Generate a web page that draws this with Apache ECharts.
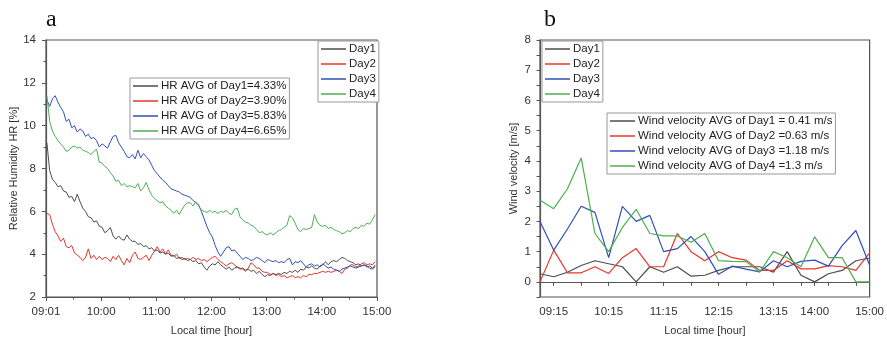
<!DOCTYPE html>
<html>
<head>
<meta charset="utf-8">
<script src="https://cdn.jsdelivr.net/npm/echarts@6/dist/echarts.min.js"></script>
<style>html,body{margin:0;padding:0;background:#fff;}#c{width:887px;height:341px;}</style>
</head>
<body>
<div id="c"></div>
<script>
// ---------- Panel a: Relative humidity (samples every 3 min from 09:01) ----------
const hrDay1 = [9.2,7.9,7.5,7.35,7.15,7.2,6.95,6.9,6.65,6.7,6.45,6.8,6.45,6.15,6.0,5.75,5.7,5.5,5.55,5.3,
  5.25,5.0,5.1,5.25,4.85,4.7,4.85,4.7,4.65,4.9,4.7,4.6,4.6,4.45,4.5,4.35,4.4,4.25,4.3,4.15,
  4.2,4.05,4.1,4.0,4.05,3.9,3.95,3.8,3.85,3.75,3.8,3.7,3.75,3.65,3.7,3.55,3.6,3.4,3.25,3.45,
  3.55,3.5,3.65,3.5,3.4,3.3,3.4,3.25,3.35,3.4,3.3,3.35,3.25,3.3,3.2,3.25,3.1,3.2,3.05,2.95,
  3.05,3.0,3.1,3.05,3.1,3.05,3.15,3.1,3.2,3.15,3.25,3.15,3.3,3.25,3.4,3.35,3.45,3.35,3.3,3.45,
  3.5,3.65,3.5,3.65,3.7,3.65,3.75,3.85,3.8,3.7,3.65,3.6,3.5,3.55,3.45,3.5,3.4,3.45,3.35,3.4];
const hrDay2 = [5.9,5.85,5.4,5.05,4.85,4.6,4.75,4.35,4.3,4.4,4.05,3.95,3.85,3.7,3.85,4.25,3.8,3.95,3.75,3.9,
  3.75,3.85,3.8,3.65,3.9,3.75,3.95,3.7,3.5,3.8,3.6,3.95,4.1,3.8,3.75,3.85,3.95,3.7,3.95,4.15,
  4.35,4.1,4.25,4.0,4.2,3.95,3.9,4.0,3.8,3.85,3.75,3.8,3.75,3.85,3.75,3.8,3.7,3.75,3.65,3.75,
  3.85,3.9,3.75,3.65,3.55,3.45,3.55,3.6,3.5,3.4,3.35,3.3,3.2,3.35,3.6,3.5,3.35,3.35,3.2,3.15,
  3.15,3.05,3.1,3.0,3.05,2.95,3.0,2.9,2.95,3.0,2.9,2.95,2.9,3.0,2.95,3.05,3.05,3.1,3.1,3.15,
  3.2,3.15,3.2,3.15,3.2,3.25,3.2,3.1,3.3,3.35,3.5,3.5,3.4,3.45,3.55,3.6,3.5,3.55,3.5,3.65];
const hrDay3 = [11.2,10.9,11.25,11.4,11.1,10.85,10.65,10.2,10.3,9.9,10.0,9.7,9.85,9.75,9.5,9.6,9.4,9.45,9.3,9.0,
  9.15,9.05,8.95,9.25,9.5,9.55,9.2,9.0,8.8,8.55,8.5,8.65,8.45,8.85,8.5,8.7,8.55,8.4,8.15,7.9,
  7.75,7.6,7.45,7.35,7.2,7.05,7.0,6.95,6.9,6.8,6.75,6.7,6.65,6.5,6.4,6.3,6.0,5.65,5.3,5.0,
  4.8,4.4,4.1,3.9,4.1,4.3,4.35,4.15,4.2,4.05,3.9,3.75,3.85,3.8,3.7,3.75,3.85,3.8,3.7,3.6,
  3.75,3.7,3.65,3.7,3.6,3.65,3.6,3.75,3.8,3.5,3.65,3.6,3.7,3.55,3.4,3.5,3.55,3.45,3.5,3.4,
  3.55,3.45,3.35,3.4,3.3,3.25,3.2,3.3,3.35,3.4,3.45,3.4,3.35,3.4,3.45,3.5,3.45,3.35,3.3,3.5];
const hrDay4 = [11.4,10.2,9.75,9.5,9.3,9.15,9.0,8.8,8.85,9.0,9.05,8.95,9.0,8.85,8.8,8.75,8.65,8.8,8.9,8.3,
  8.25,8.1,8.0,7.8,7.65,7.4,7.45,7.2,7.3,7.15,7.2,7.15,7.1,7.3,6.95,7.1,7.35,7.0,6.75,6.6,
  6.5,6.4,6.45,6.25,6.15,6.05,5.9,6.05,5.85,6.1,6.3,6.4,6.4,6.25,6.45,6.25,6.05,6.0,5.95,6.05,
  5.95,6.0,5.9,6.0,5.95,6.05,5.9,5.85,6.1,6.15,5.75,5.6,5.5,5.45,5.35,5.3,5.15,5.0,5.05,4.95,
  4.9,5.0,4.9,5.0,5.1,5.15,5.25,5.35,5.8,5.7,5.45,5.15,5.05,5.2,5.15,5.2,5.25,5.85,5.5,5.35,
  5.3,5.35,5.2,5.25,5.15,5.1,5.05,4.95,5.0,5.1,5.05,5.2,5.25,5.2,5.35,5.3,5.45,5.4,5.6,5.85];
const hrTickLabels = ['09:01','10:00','11:00','12:00','13:00','14:00','15:00'];
const hrAvgLabels = ['HR AVG of Day1=4.33%','HR AVG of Day2=3.90%','HR AVG of Day3=5.83%','HR AVG of Day4=6.65%'];

// ---------- Panel b: Wind velocity (every 15 min from 09:00) ----------
const windTimes = ['09:00','09:15','09:30','09:45','10:00','10:15','10:30','10:45','11:00','11:15','11:30','11:45',
  '12:00','12:15','12:30','12:45','13:00','13:15','13:30','13:45','14:00','14:15','14:30','14:45','15:00'];
const windDay1 = [0.27,0.17,0.32,0.54,0.7,0.6,0.5,0,0.5,0.32,0.5,0.19,0.22,0.38,0.5,0.5,0.5,0.32,1.0,0.22,0,0.27,0.38,0.7,0.79];
const windDay2 = [0,1.05,0.3,0.3,0.5,0.28,0.8,1.1,0.5,0.5,1.6,1.0,0.7,1.0,0.8,0.72,0.38,0.38,0.7,0.43,0.43,0.54,0.5,0.38,0.96];
const windDay3 = [2.0,1.05,1.75,2.5,2.3,0.8,2.5,2.0,2.2,1.0,1.1,1.5,1.0,0.25,0.52,0.42,0.33,0.7,0.5,0.68,0.72,0.52,1.2,1.7,0.55];
const windDay4 = [2.7,2.42,3.08,4.1,1.6,1.0,1.8,2.4,1.6,1.52,1.52,1.31,1.6,0.7,0.68,0.67,0.33,1.0,0.8,0.5,1.49,0.8,0.8,0,0];
const windTickLabels = ['09:15','10:15','11:15','12:15','13:15','14:00','15:00'];
const windAvgLabels = ['Wind velocity AVG of Day1 = 0.41 m/s','Wind velocity AVG of Day2 =0.63 m/s','Wind velocity AVG of Day3 =1.18 m/s','Wind velocity AVG of Day4 =1.3 m/s'];

const dayNames = ['Day1','Day2','Day3','Day4'];
const colors = ['#4d4d4d','#e8352b','#2f4fb8','#4caf50'];
const FONT = 'Liberation Sans';

const hrSeriesData = [hrDay1, hrDay2, hrDay3, hrDay4];
const windSeriesData = [windDay1, windDay2, windDay3, windDay4];

const chart = echarts.init(document.getElementById('c'), null, {renderer: 'canvas'});

const axisLine = {show: true, lineStyle: {color: '#555', width: 1.2}};
const labelStyle = {color: '#333', fontSize: 11.5, fontFamily: FONT};
const nameStyle = {color: '#333', fontSize: 11, fontFamily: FONT};

function legendBase(left, top, items, fmt) {
  return {
    orient: 'vertical', left: left, top: top,
    data: items, icon: 'rect', itemWidth: 25, itemHeight: 1.5, itemGap: 3,
    padding: [2, 3], borderColor: '#999', borderWidth: 1, backgroundColor: '#fff',
    textStyle: {fontSize: 11.5, fontFamily: FONT, color: '#222', padding: [0, 0, 0, -2]},
    formatter: fmt, selectedMode: true
  };
}

const series = [];
hrSeriesData.forEach((arr, i) => {
  series.push({
    name: dayNames[i], type: 'line', xAxisIndex: 0, yAxisIndex: 0,
    data: arr.map((v, k) => [1 + 3 * k, v]),
    showSymbol: false, symbol: 'none', lineStyle: {width: 1, color: colors[i]}, itemStyle: {color: colors[i]},
    animation: false, z: i === 0 ? 5 : 3
  });
});
windSeriesData.forEach((arr, i) => {
  series.push({
    name: dayNames[i], type: 'line', xAxisIndex: 1, yAxisIndex: 1,
    data: arr,
    showSymbol: false, symbol: 'none', lineStyle: {width: 1.2, color: colors[i]}, itemStyle: {color: colors[i]},
    animation: false
  });
});

chart.setOption({
  animation: false,
  title: [
    {text: 'a', left: 41, top: 3, textStyle: {fontFamily: 'Liberation Serif', fontSize: 24, fontWeight: 'normal', color: '#111'}},
    {text: 'b', left: 539, top: 3, textStyle: {fontFamily: 'Liberation Serif', fontSize: 24, fontWeight: 'normal', color: '#111'}}
  ],
  grid: [
    {left: 46, right: 510, top: 40, bottom: 34, show: true, borderColor: '#555', borderWidth: 1.2, containLabel: false},
    {left: 540, right: 14, top: 40, bottom: 34, show: true, borderColor: '#555', borderWidth: 1.2, containLabel: false}
  ],
  legend: [
    legendBase(318, 41, dayNames, n => n),
    legendBase(130, 78, dayNames, n => hrAvgLabels[dayNames.indexOf(n)]),
    legendBase(542, 41, dayNames, n => n),
    legendBase(607, 113, dayNames, n => windAvgLabels[dayNames.indexOf(n)])
  ],
  xAxis: [
    {
      type: 'value', gridIndex: 0, min: 0, max: 360, interval: 60,
      name: 'Local time [hour]', nameLocation: 'middle', nameGap: 28, nameTextStyle: nameStyle,
      axisLine: axisLine, axisTick: {show: true, length: 4, lineStyle: {color: '#555'}},
      minorTick: {show: true, splitNumber: 2, length: 2.5, lineStyle: {color: '#555'}},
      splitLine: {show: false},
      axisLabel: Object.assign({}, labelStyle, {margin: 9, formatter: v => hrTickLabels[Math.round(v / 60)] || ''})
    },
    {
      type: 'category', gridIndex: 1, data: windTimes, boundaryGap: false,
      name: 'Local time [hour]', nameLocation: 'middle', nameGap: 28, nameTextStyle: nameStyle,
      axisLine: axisLine,
      axisTick: {show: true, length: 4, lineStyle: {color: '#555'},
        interval: (idx, val) => (idx % 2 === 1) || windTickLabels.indexOf(val) >= 0},
      splitLine: {show: false},
      axisLabel: Object.assign({}, labelStyle, {margin: 9,
        interval: (idx, val) => windTickLabels.indexOf(val) >= 0})
    }
  ],
  yAxis: [
    {
      type: 'value', gridIndex: 0, min: 2, max: 14, interval: 2,
      name: 'Relative Humidity HR [%]', nameLocation: 'middle', nameGap: 27, nameTextStyle: nameStyle,
      axisLine: axisLine, axisTick: {show: true, length: 4, lineStyle: {color: '#555'}},
      minorTick: {show: true, splitNumber: 2, length: 2.5, lineStyle: {color: '#555'}},
      splitLine: {show: false},
      axisLabel: Object.assign({}, labelStyle, {margin: 10})
    },
    {
      type: 'value', gridIndex: 1, min: -0.5, max: 8, interval: 0.5,
      name: 'Wind velocity [m/s]', nameLocation: 'middle', nameGap: 21, nameTextStyle: nameStyle,
      axisLine: axisLine, axisTick: {show: true, length: 3.5, lineStyle: {color: '#555'}},
      splitLine: {show: false},
      axisLabel: Object.assign({}, labelStyle, {margin: 9, formatter: v => Number.isInteger(v) ? String(v) : ''})
    }
  ],
  series: series
});
</script>
</body>
</html>
